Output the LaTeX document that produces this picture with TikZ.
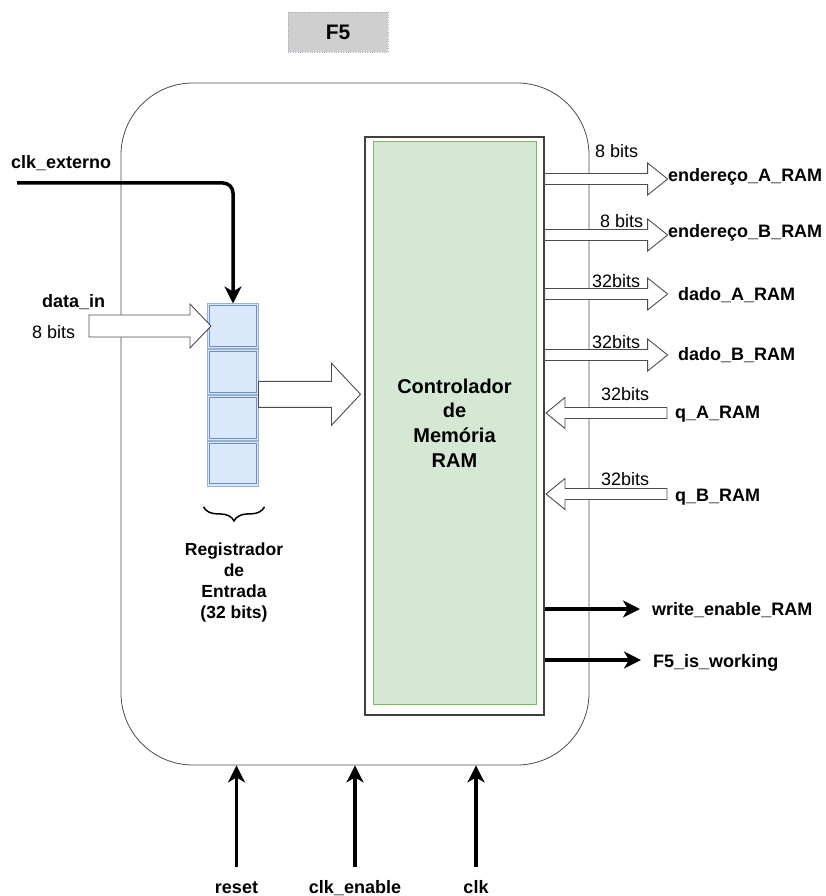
\documentclass[tikz,border=0pt]{standalone}
\usepackage{fontspec}
\setmainfont{Liberation Sans}
\usetikzlibrary{arrows.meta,positioning,decorations.pathreplacing}
\definecolor{greenfill}{HTML}{D5E8D4}
\definecolor{greenline}{HTML}{82B366}
\definecolor{bluefill}{HTML}{DAE8FC}
\definecolor{blueline}{HTML}{6C8EBF}
\definecolor{titlefill}{HTML}{CFCFCF}
\definecolor{titleline}{HTML}{B9A3C9}

\begin{document}
\begin{tikzpicture}[x=1pt,y=-1pt,
    fat/.style args={#1/#2/#3/#4}{insert path={-- ++(0,-#2) -- ++({(#1)-(#4)},0) -- ++(0,{#2-#3})
      -- ++(#4,#3) -- ++({0-(#4)},#3) -- ++(0,{#2-#3}) -- ++({(#4)-(#1)},0) -- cycle}}]
    \tikzstyle{lab}=[font=\bfseries\fontsize{18}{21}\selectfont, inner sep=2pt]
    \tikzstyle{bits}=[font=\fontsize{18}{21}\selectfont, inner sep=0pt]
    \tikzstyle{sig}=[line width=3.5pt, -{Stealth[length=17pt,width=17pt,inset=5pt]}]
    \tikzstyle{hollow}=[draw=black!70, fill=white, line width=0.9pt, line join=miter]
    \tikzstyle{cell}=[draw=blueline!70, line width=0.8pt, fill=bluefill, minimum width=51, minimum height=45,
      inner sep=0pt, outer sep=0pt,
      path picture={\draw[blueline, line width=0.8pt] ([shift={(2.2pt,-2.2pt)}]path picture bounding box.north west)
        rectangle ([shift={(-2.2pt,2.2pt)}]path picture bounding box.south east);}]
    \useasboundingbox (0,0) rectangle (826,896);

    % title and main block
    \node[draw=titleline, dotted, fill=titlefill, minimum width=100, minimum height=40,
      font=\bfseries\fontsize{21}{24}\selectfont] (f5) at (338,32) {F5};
    \node[draw=black!70, line width=0.8pt, rounded corners=72pt, minimum width=468, minimum height=682] (blk) at (355,424) {};
    \node[draw=black!75, line width=1.2pt, fill=white, minimum width=179, minimum height=578] (ctl) at (454.5,426) {};
    \node[draw=greenline, fill=greenfill, line width=1pt, minimum width=163, minimum height=562, align=center,
      font=\bfseries\fontsize{20}{24.5}\selectfont] (mem) at (454.5,423) {Controlador\\de\\Memória\\RAM};

    % input register
    \node[cell] (r1) at (233,326) {};
    \node[cell, below=0.8pt of r1] (r2) {};
    \node[cell, below=0.8pt of r2] (r3) {};
    \node[cell, below=0.8pt of r3] (r4) {};
    \draw[line width=1.5pt, decorate, decoration={brace, mirror, amplitude=14pt}]
      ([xshift=-4pt,yshift=-21pt]r4.south west) -- ([xshift=6pt,yshift=-21pt]r4.south east);
    \node[lab, anchor=north, align=center, font=\bfseries\fontsize{17.5}{21}\selectfont] (regtxt) at (234,541)
      {Registrador\\de\\Entrada\\(32 bits)};

    % clk_externo and data_in
    \node[lab, anchor=base west] (cke) at (9,168) {clk\_externo};
    \coordinate (ckin) at (17,183);
    \draw[sig, rounded corners=10pt] (ckin) -| (r1.north);
    \node[lab, anchor=base west] (din) at (40,307) {data\_in};
    \node[bits, anchor=base west] (d8) at (32,338) {8 bits};
    \coordinate (dtail) at (89,326);
    \draw[hollow] (dtail) [fat=122/11/22/21];
    \draw[hollow] (r2.south east) [fat=102/13/31/29];

    % outputs to RAM
    \draw[hollow] (ctl.east |- 0,179) [fat=123/5.5/16/20];
    \draw[hollow] (ctl.east |- 0,235) [fat=123/5.5/16/20];
    \draw[hollow] (ctl.east |- 0,294) [fat=123/5.5/16/20];
    \draw[hollow] (ctl.east |- 0,355) [fat=123/5.5/16/20];
    \node[bits, anchor=base west] (b1) at (595,158) {8 bits};
    \node[bits, anchor=base west] (b2) at (600,227) {8 bits};
    \node[bits, anchor=base west] (b3) at (592,287) {32bits};
    \node[bits, anchor=base west] (b4) at (592,348) {32bits};
    \node[lab, anchor=base west] (endA) at (666,182) {endereço\_A\_RAM};
    \node[lab, anchor=base west] (endB) at (666,237) {endereço\_B\_RAM};
    \node[lab, anchor=base west] (datA) at (676,300) {dado\_A\_RAM};
    \node[lab, anchor=base west] (datB) at (676,360) {dado\_B\_RAM};

    % inputs from RAM
    \coordinate (qAtail) at (667,413);
    \coordinate (qBtail) at (667,494);
    \draw[hollow] (qAtail) [fat=-121/5.5/15.5/-19];
    \draw[hollow] (qBtail) [fat=-121/5.5/15.5/-19];
    \node[bits, anchor=base west] (b5) at (601,400) {32bits};
    \node[bits, anchor=base west] (b6) at (601,485) {32bits};
    \node[lab, anchor=base west] (qA) at (673,418) {q\_A\_RAM};
    \node[lab, anchor=base west] (qB) at (673,501) {q\_B\_RAM};

    % control outputs
    \node[lab, anchor=base west] (wen) at (650,615) {write\_enable\_RAM};
    \node[lab, anchor=base west] (work) at (651,667) {F5\_is\_working};
    \draw[sig, shorten >=10pt] (ctl.east |- 0,609) -- (wen.west |- 0,609);
    \draw[sig, shorten >=10pt] (ctl.east |- 0,660) -- (work.west |- 0,660);

    % bottom inputs
    \node[lab, anchor=base] (rst) at (236.5,893) {reset};
    \node[lab, anchor=base] (cken) at (355,893) {clk\_enable};
    \node[lab, anchor=base] (clk) at (476,893) {clk};
    \draw[sig] (rst.base |- 0,867) -- (rst.base |- blk.south);
    \draw[sig] (cken.base |- 0,867) -- (cken.base |- blk.south);
    \draw[sig] (clk.base |- 0,867) -- (clk.base |- blk.south);
\end{tikzpicture}
\end{document}
